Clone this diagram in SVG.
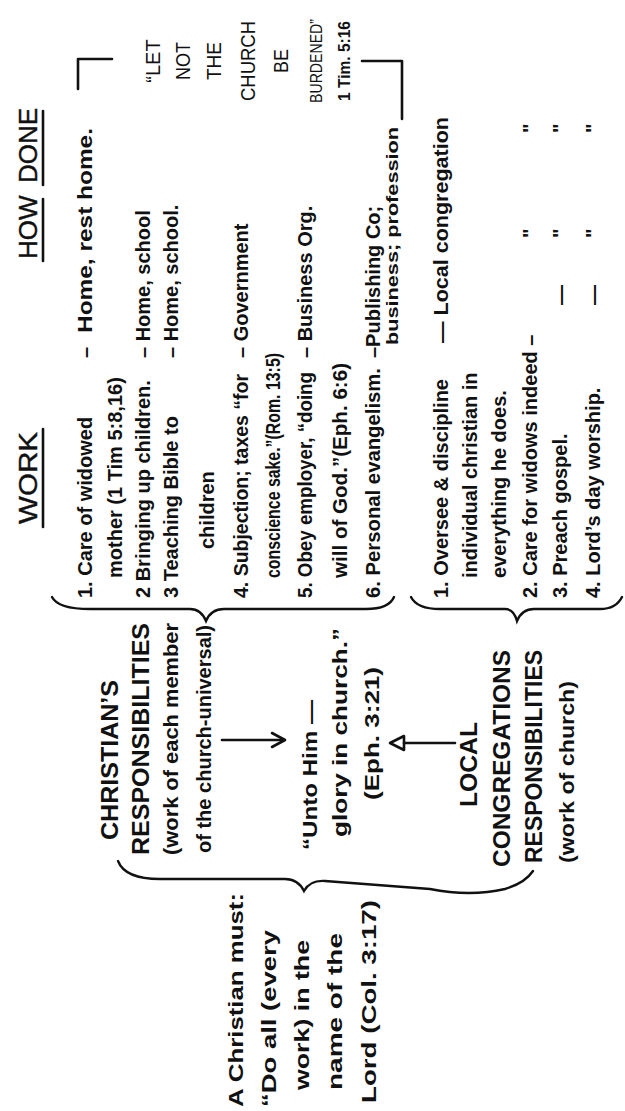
<svg xmlns="http://www.w3.org/2000/svg" width="625" height="1111" viewBox="0 0 625 1111">
<style>
text{font-family:"Liberation Sans",Arial,sans-serif;fill:#111}
.it{font-size:20px;font-weight:bold}
.lb{font-size:24px;font-weight:bold}
.md{font-size:21px;font-weight:bold}
.hd{font-size:26px;stroke:#111;stroke-width:0.4}
.q{font-size:20px;text-anchor:middle}
.qs{font-size:16px;text-anchor:middle;font-weight:bold}
.sm{font-size:16px;font-weight:bold}
.ln{stroke:#111;stroke-width:2.6;fill:none;stroke-linecap:round;stroke-linejoin:round}
.br{stroke:#111;stroke-width:2.4;fill:none;stroke-linecap:round}
</style>
<rect width="625" height="1111" fill="#fff"/>
<g transform="translate(0,1111) rotate(-90)">
  <g id="headers">
    <text class="hd" x="587" y="37" textLength="92" lengthAdjust="spacingAndGlyphs">WORK</text>
    <line class="ln" x1="584" y1="43" x2="682" y2="43"/>
    <text class="hd" x="852" y="37">HOW</text>
    <text class="hd" x="928" y="37">DONE</text>
    <line class="ln" x1="850" y1="43" x2="912" y2="43"/>
    <line class="ln" x1="926" y1="43" x2="1000" y2="43"/>
  </g>
  <g id="christian-must">
    <text class="md" x="4" y="243" textLength="214" lengthAdjust="spacingAndGlyphs">A Christian must:</text>
    <text class="md" x="4" y="276" textLength="177" lengthAdjust="spacingAndGlyphs">“Do all (every</text>
    <text class="md" x="21" y="309" textLength="150" lengthAdjust="spacingAndGlyphs">work) in the</text>
    <text class="md" x="21" y="342" textLength="157" lengthAdjust="spacingAndGlyphs">name of the</text>
    <text class="md" x="8" y="376" textLength="203" lengthAdjust="spacingAndGlyphs">Lord (Col. 3:17)</text>
  </g>
  <g id="christians-responsibilities">
    <text class="lb" x="271" y="118" textLength="160" lengthAdjust="spacingAndGlyphs">CHRISTIAN’S</text>
    <text class="lb" x="256" y="149" textLength="232" lengthAdjust="spacingAndGlyphs">RESPONSIBILITIES</text>
    <text class="md" x="256" y="178" textLength="232" lengthAdjust="spacingAndGlyphs">(work of each member</text>
    <text class="md" x="258" y="211" textLength="228" lengthAdjust="spacingAndGlyphs">of the church-universal)</text>
  </g>
  <g id="glory">
    <text class="md" x="261" y="317" textLength="150" lengthAdjust="spacingAndGlyphs">“Unto Him —</text>
    <text class="md" x="274" y="347" textLength="209" lengthAdjust="spacingAndGlyphs">glory in church.”</text>
    <text class="md" x="311" y="379" textLength="133" lengthAdjust="spacingAndGlyphs">(Eph. 3:21)</text>
  </g>
  <g id="local-responsibilities">
    <text class="lb" x="304" y="477" textLength="85" lengthAdjust="spacingAndGlyphs">LOCAL</text>
    <text class="lb" x="244" y="510" textLength="217" lengthAdjust="spacingAndGlyphs">CONGREGATIONS</text>
    <text class="lb" x="248" y="542" textLength="213" lengthAdjust="spacingAndGlyphs">RESPONSIBILITIES</text>
    <text class="md" x="248" y="574" textLength="182" lengthAdjust="spacingAndGlyphs">(work of church)</text>
  </g>
  <g id="christian-work">
    <text class="it" x="513" y="92">1. Care of widowed</text>
    <text class="it" x="533" y="122">mother (1 Tim 5:8,16)</text>
    <text class="it" x="513" y="150">2 Bringing up children.</text>
    <text class="it" x="513" y="178">3 Teaching Bible to</text>
    <text class="it" x="562" y="214">children</text>
    <text class="it" x="513" y="248" textLength="224" lengthAdjust="spacingAndGlyphs">4. Subjection; taxes “for</text>
    <text class="it" x="533" y="280" textLength="225" lengthAdjust="spacingAndGlyphs">conscience sake.”(Rom. 13:5)</text>
    <text class="it" x="513" y="312" textLength="226" lengthAdjust="spacingAndGlyphs">5. Obey employer, “doing</text>
    <text class="it" x="533" y="347" textLength="215" lengthAdjust="spacingAndGlyphs">will of God.”(Eph. 6:6)</text>
    <text class="it" x="513" y="380" textLength="230" lengthAdjust="spacingAndGlyphs">6. Personal evangelism.</text>
  </g>
  <g id="how-done">
    <text class="it" x="753" y="92">–</text>
    <text class="it" x="778" y="92" textLength="205" lengthAdjust="spacingAndGlyphs">Home, rest home.</text>
    <text class="it" x="753" y="150">–  Home, school</text>
    <text class="it" x="753" y="178">–  Home, school.</text>
    <text class="it" x="753" y="248">–  Government</text>
    <text class="it" x="753" y="312">–  Business Org.</text>
    <text class="it" x="753" y="380">–Publishing Co;</text>
    <text class="sm" x="766" y="398" textLength="218" lengthAdjust="spacingAndGlyphs">business; profession</text>
  </g>
  <g id="local-work">
    <text class="it" x="513" y="448">1. Oversee &amp; discipline</text>
    <text class="it" x="768" y="448" textLength="226" lengthAdjust="spacingAndGlyphs">— Local congregation</text>
    <text class="it" x="533" y="477">individual christian in</text>
    <text class="it" x="533" y="506">everything he does.</text>
    <text class="it" x="513" y="537">2. Care for widows indeed –</text>
    <text class="it" x="513" y="567">3. Preach gospel.</text>
    <text class="it" x="806" y="567">—</text>
    <text class="it" x="513" y="600">4. Lord’s day worship.</text>
    <text class="it" x="806" y="600">—</text>
    <text class="it" x="873" y="537">"</text><text class="it" x="978" y="537">"</text>
    <text class="it" x="873" y="567">"</text><text class="it" x="978" y="567">"</text>
    <text class="it" x="873" y="600">"</text><text class="it" x="978" y="600">"</text>
  </g>
  <g id="quote">
    <text class="q" x="1050" y="160">“LET</text>
    <text class="q" x="1050" y="190" textLength="38" lengthAdjust="spacingAndGlyphs">NOT</text>
    <text class="q" x="1050" y="221" textLength="38" lengthAdjust="spacingAndGlyphs">THE</text>
    <text class="q" x="1050" y="255" textLength="80" lengthAdjust="spacingAndGlyphs">CHURCH</text>
    <text class="q" x="1050" y="288" textLength="24" lengthAdjust="spacingAndGlyphs">BE</text>
    <text class="q" x="1050" y="322" style="font-size:17px" textLength="84" lengthAdjust="spacingAndGlyphs">BURDENED”</text>
    <text class="qs" x="1050" y="350" textLength="80" lengthAdjust="spacingAndGlyphs">1 Tim. 5:16</text>
  </g>
  <g id="connectors">
    <path class="br" d="M250,118 Q232,125 232,160 L232,285 Q232,298 220,304 Q231,310 230,325 L222,430 Q214,470 222,505 Q228,525 240,533"/>
    <path class="br" d="M514,52 Q502,58 502,90 L502,190 Q502,201 490,206 Q502,211 502,224 L502,366 Q502,389 514,394"/>
    <path class="br" d="M514,411 Q502,417 502,440 L502,505 Q502,514 490,517 Q502,522 502,534 L502,600 Q502,616 514,622"/>
    <line class="ln" x1="371" y1="222" x2="371" y2="283"/>
    <path class="ln" d="M364,272 L371,285 L378,272"/>
    <line class="ln" x1="368" y1="455" x2="368" y2="404"/>
    <path class="ln" d="M361,404 L368,390 L375,404 Z" fill="#fff"/>
    <path class="ln" d="M1022,78 H1052 V112"/>
    <path class="ln" d="M992,402 H1050 V362"/>
  </g>
</g>
</svg>
